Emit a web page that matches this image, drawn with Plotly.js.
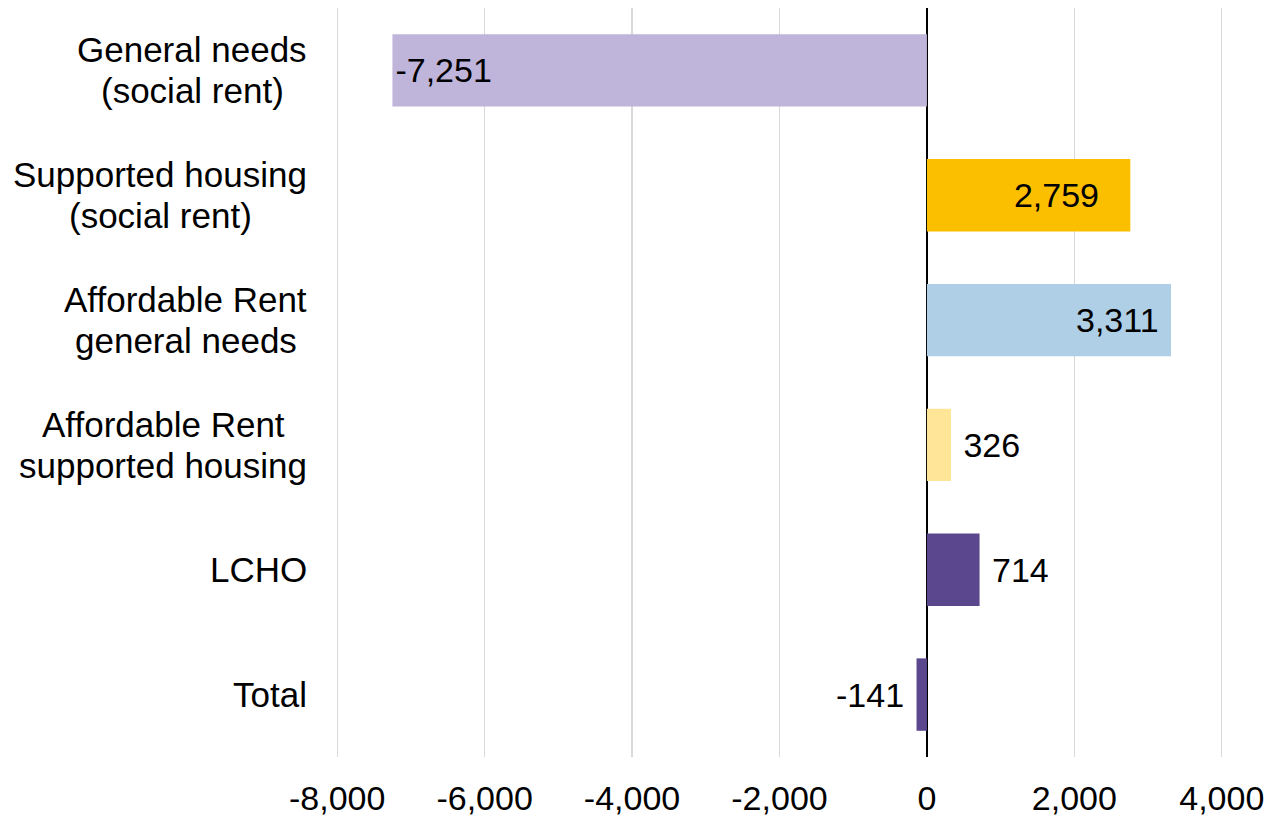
<!DOCTYPE html>
<html>
<head>
<meta charset="utf-8">
<script src="https://cdn.plot.ly/plotly-3.0.1.min.js"></script>
<style>html,body{margin:0;padding:0;background:#fff;}#chart{width:1269px;height:817px;}</style>
</head>
<body>
<div id="chart"></div>
<script>
const categories = [
  "General needs<br>(social rent)",
  "Supported housing<br>(social rent)",
  "Affordable Rent<br>general needs",
  "Affordable Rent <br>supported housing",
  "LCHO",
  "Total"
];
const values = [-7251, 2759, 3311, 326, 714, -141];
const valueLabels = ["-7,251", "2,759", "3,311", "326", "714", "-141"];
const barColors = ["#BFB4D9", "#FBBF00", "#AECFE6", "#FFE597", "#5B478E", "#5B478E"];
const labelPositions = ["inside", "inside", "inside", "outside", "outside", "outside"];
const xTicks = [-8000, -6000, -4000, -2000, 0, 2000, 4000];
const xTickLabels = ["-8,000", "-6,000", "-4,000", "-2,000", "0", "2,000", "4,000"];

const FONT = "Liberation Sans, Arial, sans-serif";
const CAT_SIZE = 35;
const LINE_H = 41;
const NB = "\u00A0";
// padding (non-breaking spaces) around value labels, to mimic the source's label offsets
const labelPad = [0, 3, 1, 1, 1, 1];
const paddedLabels = valueLabels.map((t, i) => {
  const p = NB.repeat(labelPad[i]);
  return values[i] < 0 ? t + p : (labelPositions[i] === "inside" ? t + p : p + t);
});

const trace = {
  type: "bar",
  orientation: "h",
  y: categories,
  x: values,
  text: paddedLabels,
  textposition: labelPositions,
  insidetextanchor: "end",
  textfont: {family: FONT, size: 34, color: "#000"},
  insidetextfont: {family: FONT, size: 34, color: "#000"},
  outsidetextfont: {family: FONT, size: 34, color: "#000"},
  constraintext: "none",
  cliponaxis: false,
  marker: {color: barColors, line: {width: 0}},
  hoverinfo: "none"
};

// Category labels: centred multi-line blocks, right edge near the plot
const ctx = document.createElement("canvas").getContext("2d");
ctx.font = CAT_SIZE + "px 'Liberation Sans', Arial, sans-serif";
const annotations = [];
categories.forEach(c => {
  const lines = c.split("<br>");
  const widths = lines.map(l => ctx.measureText(l.trim()).width);
  const blockW = Math.max(...widths);
  const n = lines.length;
  lines.forEach((l, i) => {
    annotations.push({
      xref: "paper", yref: "y",
      x: 0, y: c,
      xanchor: "center", yanchor: "middle",
      xshift: -28 - blockW / 2,
      yshift: ((n - 1) / 2 - i) * LINE_H,
      text: l.trim(),
      showarrow: false,
      font: {family: FONT, size: CAT_SIZE, color: "#000"}
    });
  });
});

const layout = {
  width: 1269, height: 817,
  margin: {l: 335, r: 45, t: 8, b: 60},
  paper_bgcolor: "#fff",
  plot_bgcolor: "#fff",
  showlegend: false,
  bargap: 0.42,
  font: {family: FONT, size: 34, color: "#000"},
  xaxis: {
    range: [-8030, 4030],
    tickvals: xTicks,
    ticktext: xTickLabels,
    showgrid: true,
    gridcolor: "#D9D9D9",
    gridwidth: 1.3,
    zeroline: true,
    zerolinecolor: "#000",
    zerolinewidth: 1.5,
    showline: false,
    ticks: "",
    ticklabelstandoff: 18,
    tickfont: {family: FONT, size: 34, color: "#000"},
    fixedrange: true
  },
  yaxis: {
    type: "category",
    categoryorder: "array",
    categoryarray: categories,
    autorange: "reversed",
    showticklabels: false,
    showgrid: false,
    zeroline: false,
    showline: false,
    ticks: "",
    fixedrange: true
  },
  annotations: annotations
};

Plotly.newPlot("chart", [trace], layout, {displayModeBar: false, staticPlot: true});
</script>
</body>
</html>
